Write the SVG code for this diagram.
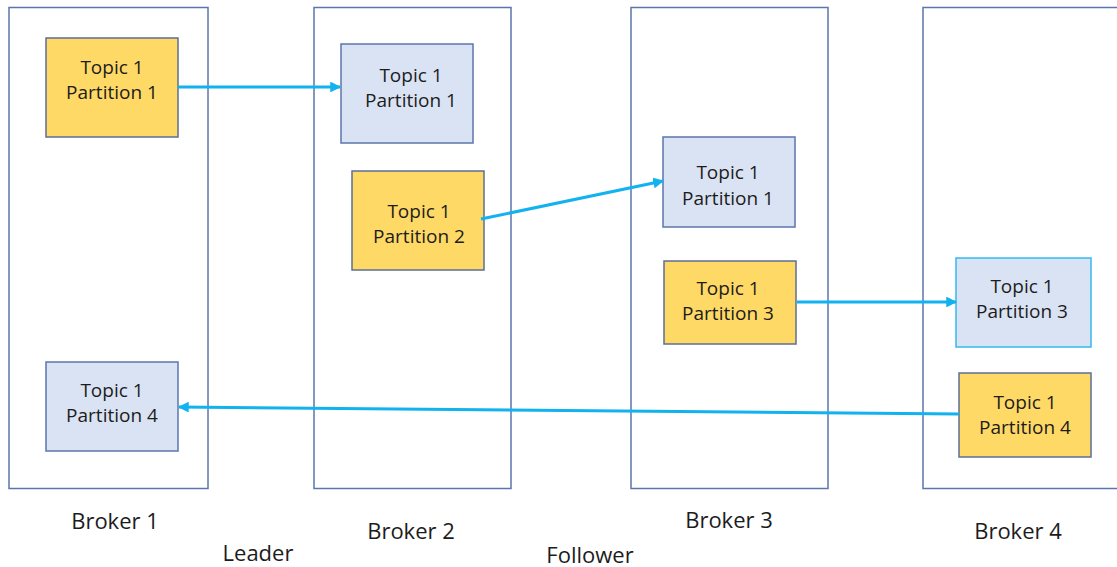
<svg xmlns="http://www.w3.org/2000/svg" width="1117" height="567" viewBox="0 0 1117 567">
  <style>
    .broker { fill: #ffffff; stroke: #5b76ad; stroke-width: 1.5; }
    .leader { fill: #ffd966; stroke: #5b6f96; stroke-width: 1.5; }
    .follower { fill: #dae3f3; stroke: #5b76ad; stroke-width: 1.5; }
    .follower-hl { fill: #dae3f3; stroke: #34b9ee; stroke-width: 1.5; }
    .t { font-family: "Open Sans", "Liberation Sans", sans-serif; font-size: 19px; fill: #1c1c1c; text-anchor: middle; }
    .lbl { font-family: "Open Sans", "Liberation Sans", sans-serif; font-size: 22px; fill: #1c1c1c; text-anchor: middle; }
    .conn { stroke: #11b2ef; stroke-width: 3; fill: none; marker-end: url(#arrow); }
  </style>
  <defs>
    <marker id="arrow" viewBox="0 0 10 10" refX="9" refY="5" markerWidth="3.6" markerHeight="3.6" orient="auto" markerUnits="strokeWidth">
      <path d="M0,0 L10,5 L0,10 z" fill="#11b2ef"/>
    </marker>
  </defs>
  <rect width="1117" height="567" fill="#ffffff"/>

  <!-- broker columns -->
  <g id="broker1"><rect class="broker" x="9" y="7.5" width="199" height="481"/><text class="lbl" x="115" y="529">Broker 1</text></g>
  <g id="broker2"><rect class="broker" x="314" y="7.5" width="197" height="481"/><text class="lbl" x="411" y="539">Broker 2</text></g>
  <g id="broker3"><rect class="broker" x="631" y="7.5" width="197" height="481"/><text class="lbl" x="729" y="528">Broker 3</text></g>
  <g id="broker4"><rect class="broker" x="923" y="7.5" width="200" height="481"/><text class="lbl" x="1018" y="539">Broker 4</text></g>

  <g id="leader-label"><text class="lbl" x="258" y="561">Leader</text></g>
  <g id="follower-label"><text class="lbl" x="590" y="563">Follower</text></g>

  <!-- partitions -->
  <g id="b1-p1"><rect class="leader" x="46" y="38" width="132" height="99"/><text class="t" x="112" y="74">Topic 1</text><text class="t" x="112" y="99">Partition 1</text></g>
  <g id="b2-p1"><rect class="follower" x="341" y="44" width="132" height="99"/><text class="t" x="411" y="82">Topic 1</text><text class="t" x="411" y="107">Partition 1</text></g>
  <g id="b2-p2"><rect class="leader" x="352" y="171" width="132" height="99"/><text class="t" x="419" y="218">Topic 1</text><text class="t" x="419" y="243">Partition 2</text></g>
  <g id="b3-p1"><rect class="follower" x="663" y="137" width="132" height="90"/><text class="t" x="728" y="179">Topic 1</text><text class="t" x="728" y="205">Partition 1</text></g>
  <g id="b3-p3"><rect class="leader" x="664" y="261" width="132" height="83"/><text class="t" x="728" y="295">Topic 1</text><text class="t" x="728" y="320">Partition 3</text></g>
  <g id="b4-p3"><rect class="follower-hl" x="956" y="258" width="135" height="89"/><text class="t" x="1022" y="293">Topic 1</text><text class="t" x="1022" y="318">Partition 3</text></g>
  <g id="b4-p4"><rect class="leader" x="959" y="373" width="132" height="84"/><text class="t" x="1025" y="409">Topic 1</text><text class="t" x="1025" y="434">Partition 4</text></g>
  <g id="b1-p4"><rect class="follower" x="46" y="362" width="132" height="89"/><text class="t" x="112" y="397">Topic 1</text><text class="t" x="112" y="422">Partition 4</text></g>

  <!-- replication connectors -->
  <g id="connectors">
    <line class="conn" x1="178" y1="87" x2="340" y2="87"/>
    <line class="conn" x1="481" y1="219" x2="663" y2="181"/>
    <line class="conn" x1="797" y1="302" x2="956" y2="302"/>
    <line class="conn" x1="959" y1="414" x2="179" y2="407"/>
  </g>
</svg>
